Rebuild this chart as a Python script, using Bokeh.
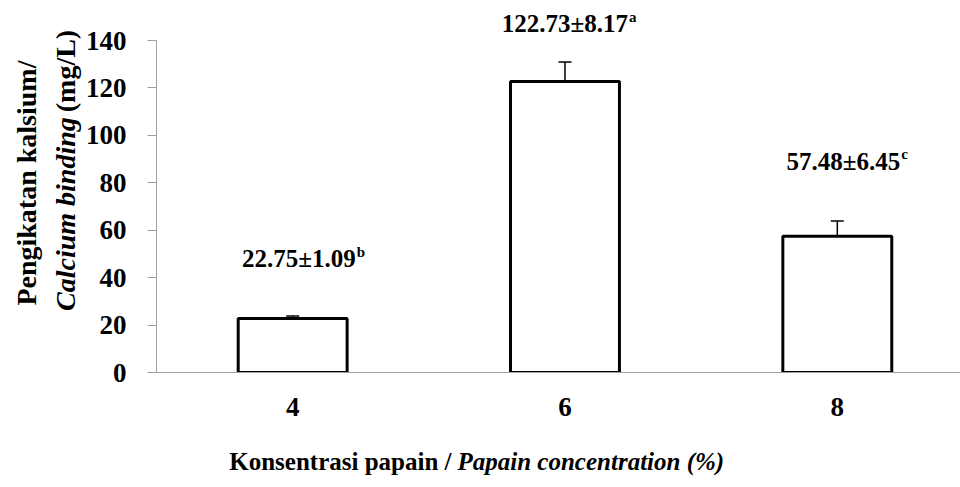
import math
from bokeh.plotting import figure
from bokeh.layouts import row, column
from bokeh.models import ColumnDataSource, Range1d, FixedTicker, Whisker, TeeHead
from bokeh.core.properties import value
from bokeh.embed import file_html
from bokeh.resources import INLINE

# ---- data ----
categories = ["4", "6", "8"]
means = [22.75, 122.73, 57.48]
sds = [1.09, 8.17, 6.45]
letters = ["b", "a", "c"]
y_ticks = [0, 20, 40, 60, 80, 100, 120, 140]
x_title = ["Konsentrasi papain /", "Papain concentration (%)"]
y_title_1 = "Pengikatan kalsium/"
y_title_2 = ["Calcium binding", "(mg/L)"]

# ---- layout constants ----
label_y = [48, 147, 89]          # vertical position of the value labels
FONT = "Liberation Serif"
AXIS_GRAY = "#a0a0a0"
TOTAL_W, TOTAL_H = 960, 487
YT_W = 82                         # width of the strip holding the y title
MAIN_W, MAIN_H = TOTAL_W - YT_W, 446
XT_H = TOTAL_H - MAIN_H
FRAME_LEFT, FRAME_BOTTOM = 154, 372
PX_PER_UNIT = 2.3714
CAT_PX = 273
ROT_FIX = 20                      # compensation for rotated-text placement


def bare(width, height):
    f = figure(width=width, height=height, output_backend="svg", toolbar_location=None,
               x_range=Range1d(0, width), y_range=Range1d(0, height),
               x_axis_type=None, y_axis_type=None, min_border=0,
               min_border_left=0, min_border_right=0, min_border_top=0, min_border_bottom=0)
    f.outline_line_color = None
    f.grid.visible = False
    return f


xpos = list(range(len(categories)))
src = ColumnDataSource(dict(
    x=xpos,
    top=means,
    upper=[m + s for m, s in zip(means, sds)],
    ly=label_y,
    txt=[f"{m:.2f}\u00b1{s:.2f}" for m, s in zip(means, sds)],
    sup=letters,
))

p = figure(width=MAIN_W, height=MAIN_H, output_backend="svg", toolbar_location=None,
           x_range=Range1d(-0.5, -0.5 + (TOTAL_W - FRAME_LEFT) / CAT_PX),
           y_range=Range1d(0, FRAME_BOTTOM / PX_PER_UNIT),
           min_border_left=FRAME_LEFT - YT_W, min_border_right=0, min_border_top=0,
           min_border_bottom=MAIN_H - FRAME_BOTTOM)
p.outline_line_color = None
p.xgrid.visible = False
p.ygrid.visible = False

p.vbar(x="x", top="top", bottom=0, width=0.4, source=src,
       fill_color="white", line_color="black", line_width=3)

w = Whisker(base="x", lower="top", upper="upper", source=src,
            line_color="black", line_width=1.5,
            upper_head=TeeHead(size=13, line_color="black", line_width=1.5),
            lower_head=TeeHead(size=13, line_color="black", line_width=1.5))
p.add_layout(w)

p.text(x="x", y="ly", text="txt", source=src, text_align="right", text_baseline="middle",
       x_offset=63, text_font=value(FONT), text_font_style="bold", text_font_size="25px",
       text_color="black")
p.text(x="x", y="ly", text="sup", source=src, text_align="left", text_baseline="middle",
       x_offset=64, y_offset=-7, text_font=value(FONT), text_font_style="bold",
       text_font_size="15px", text_color="black")

# y axis
p.yaxis.bounds = (0, 140)
p.yaxis.ticker = FixedTicker(ticks=y_ticks)
p.yaxis.axis_line_color = AXIS_GRAY
p.yaxis.major_tick_line_color = AXIS_GRAY
p.yaxis.major_tick_out = 9
p.yaxis.major_tick_in = 0
p.yaxis.minor_tick_line_color = None
p.yaxis.major_label_standoff = 21
p.yaxis.major_label_text_font = FONT
p.yaxis.major_label_text_font_style = "bold"
p.yaxis.major_label_text_font_size = "27px"
p.yaxis.major_label_text_color = "black"

# x axis
p.xaxis.ticker = FixedTicker(ticks=xpos)
p.xaxis.major_label_overrides = {i: c for i, c in zip(xpos, categories)}
p.xaxis.axis_line_color = AXIS_GRAY
p.xaxis.major_tick_line_color = None
p.xaxis.minor_tick_line_color = None
p.xaxis.major_label_standoff = 19
p.xaxis.major_label_text_font = FONT
p.xaxis.major_label_text_font_style = "bold"
p.xaxis.major_label_text_font_size = "27px"
p.xaxis.major_label_text_color = "black"

# x title strip (mixed upright / italic, joined at one point)
xt = bare(TOTAL_W, XT_H)
xj = 451
xt.text(x=[xj], y=[26], text=[x_title[0]], text_align="right", text_baseline="middle",
        text_font=value(FONT), text_font_style="bold", text_font_size="25px", text_color="black")
xt.text(x=[xj], y=[26], text=[x_title[1]], text_align="left", text_baseline="middle",
        x_offset=6, text_font=value(FONT), text_font_style="bold italic",
        text_font_size="25px", text_color="black")

# y title strip (two rotated lines)
yt = bare(YT_W, MAIN_H)
yt.text(x=[26], y=[MAIN_H - (52 + ROT_FIX)], text=[y_title_1], angle=math.pi / 2,
        text_align="right", text_baseline="middle", text_font=value(FONT),
        text_font_style="bold", text_font_size="28px", text_color="black")
yt.text(x=[65], y=[MAIN_H - (120 + ROT_FIX)], text=[y_title_2[0]], angle=math.pi / 2,
        text_align="right", text_baseline="middle", text_font=value(FONT),
        text_font_style="bold italic", text_font_size="28px", text_color="black")
yt.text(x=[65], y=[MAIN_H - (120 + ROT_FIX)], text=[y_title_2[1]], angle=math.pi / 2,
        text_align="left", text_baseline="middle", y_offset=-5, text_font=value(FONT),
        text_font_style="bold", text_font_size="28px", text_color="black")

layout = column(row(yt, p, spacing=0), xt, spacing=0)
open("out.html", "w").write(file_html(layout, INLINE))
